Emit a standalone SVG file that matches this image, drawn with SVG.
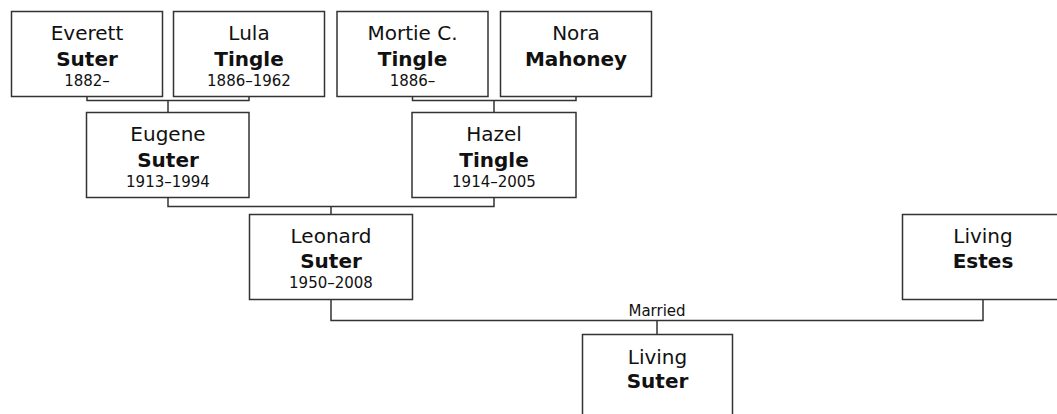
<svg xmlns="http://www.w3.org/2000/svg" width="1057" height="414" viewBox="0 0 1057 414">
<style>
.box{fill:#fff;stroke:#333;stroke-width:1.5}
.ln{fill:none;stroke:#333;stroke-width:1.5}
text{font-family:"DejaVu Sans",Verdana,sans-serif;fill:#111;text-anchor:middle}
.g{font-size:20px}
.s{font-size:20px;font-weight:bold}
.d{font-size:15px}
.m{font-size:15px}
</style>
<rect width="1057" height="414" fill="#fff"/>
<g id="connectors">
<path class="ln" d="M87,96.5V100.5H249V96.5M168,100.5V112.5"/>
<path class="ln" d="M412.5,96.5V100.5H576V96.5M494,100.5V112.5"/>
<path class="ln" d="M168,197.5V206.5H494V197.5M331,206.5V214.5"/>
<path class="ln" d="M331,299.5V320.5H983V299.5M657,320.5V334.5"/>
<text class="m" x="657" y="316">Married</text>
</g>
<g id="everett">
<rect class="box" x="11.5" y="11.5" width="151" height="85"/>
<text class="g" x="87" y="40">Everett</text>
<text class="s" x="87" y="66">Suter</text>
<text class="d" x="87" y="86">1882–</text>
</g>
<g id="lula">
<rect class="box" x="173.5" y="11.5" width="151" height="85"/>
<text class="g" x="249" y="40">Lula</text>
<text class="s" x="249" y="66">Tingle</text>
<text class="d" x="249" y="86">1886–1962</text>
</g>
<g id="mortie">
<rect class="box" x="337" y="11.5" width="151" height="85"/>
<text class="g" x="412.5" y="40">Mortie C.</text>
<text class="s" x="412.5" y="66">Tingle</text>
<text class="d" x="412.5" y="86">1886–</text>
</g>
<g id="nora">
<rect class="box" x="500.5" y="11.5" width="151" height="85"/>
<text class="g" x="576" y="40">Nora</text>
<text class="s" x="576" y="66">Mahoney</text>
</g>
<g id="eugene">
<rect class="box" x="86.5" y="112.5" width="162.5" height="85"/>
<text class="g" x="168" y="141">Eugene</text>
<text class="s" x="168" y="167">Suter</text>
<text class="d" x="168" y="187">1913–1994</text>
</g>
<g id="hazel">
<rect class="box" x="412" y="112.5" width="164" height="85"/>
<text class="g" x="494" y="141">Hazel</text>
<text class="s" x="494" y="167">Tingle</text>
<text class="d" x="494" y="187">1914–2005</text>
</g>
<g id="leonard">
<rect class="box" x="249.5" y="214.5" width="163" height="85"/>
<text class="g" x="331" y="243">Leonard</text>
<text class="s" x="331" y="268">Suter</text>
<text class="d" x="331" y="288">1950–2008</text>
</g>
<g id="estes">
<rect class="box" x="902.5" y="214.5" width="161" height="85"/>
<text class="g" x="983" y="243">Living</text>
<text class="s" x="983" y="268">Estes</text>
</g>
<g id="child">
<rect class="box" x="582.5" y="334.5" width="150" height="100"/>
<text class="g" x="657.5" y="364">Living</text>
<text class="s" x="657.5" y="388">Suter</text>
</g>
</svg>
